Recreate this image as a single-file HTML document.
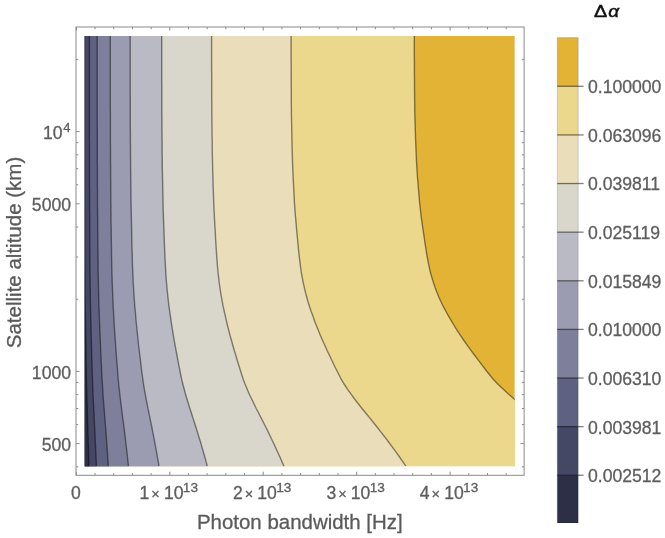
<!DOCTYPE html>
<html><head><meta charset="utf-8"><title>plot</title>
<style>html,body{margin:0;padding:0;background:#fff}svg{display:block}text{font-family:"Liberation Sans",sans-serif}.g text,text.s{stroke:#5e5e5e;stroke-width:0.3px}</style></head><body>
<svg width="665" height="538" viewBox="0 0 665 538">
<rect width="665" height="538" fill="#fff"/>
<defs><clipPath id="c"><rect x="84.8" y="35.9" width="429.99999999999994" height="430.3"/></clipPath></defs>
<g clip-path="url(#c)">
<rect x="84.8" y="35.9" width="429.99999999999994" height="430.3" fill="#e3b336"/>
<polygon fill="#ecd88c" points="82.8,33.9 414.3,33.9 414.3,35.9 414.3,40.7 414.3,45.6 414.3,50.4 414.3,55.2 414.4,60.1 414.4,64.9 414.4,69.7 414.4,74.6 414.5,79.4 414.5,84.2 414.5,89.1 414.6,93.9 414.6,98.8 414.7,103.6 414.7,108.4 414.8,113.3 414.9,118.1 415.1,122.9 415.2,127.8 415.4,132.6 415.5,137.4 415.7,142.3 415.9,147.1 416.1,151.9 416.3,156.8 416.5,161.6 416.8,166.4 417.1,171.3 417.4,176.1 417.8,180.9 418.2,185.8 418.6,190.6 419.0,195.4 419.4,200.3 419.9,205.1 420.4,210.0 421.0,214.8 421.6,219.6 422.3,224.5 423.0,229.3 423.7,234.1 424.4,239.0 425.1,243.8 425.9,248.6 426.6,253.5 427.5,258.3 428.4,263.1 429.4,268.0 430.5,272.8 431.9,277.6 433.4,282.5 435.0,287.3 436.8,292.1 438.8,297.0 441.0,301.8 443.4,306.7 446.0,311.5 448.7,316.3 451.5,321.2 454.4,326.0 457.4,330.8 460.6,335.7 463.9,340.5 467.3,345.3 470.8,350.2 474.4,355.0 478.1,359.8 481.7,364.7 485.4,369.5 489.2,374.3 493.2,379.2 497.7,384.0 502.8,388.8 508.1,393.7 513.6,398.5 519.4,403.3 525.6,408.2 531.7,413.0 538.0,417.9 544.1,422.7 550.1,427.5 556.1,432.4 562.0,437.2 567.8,442.0 573.4,446.9 579.0,451.7 584.4,456.5 589.7,461.4 594.9,466.2 594.9,468.2 82.8,468.2"/>
<polygon fill="#e9deb9" points="82.8,33.9 291.1,33.9 291.1,35.9 291.1,40.7 291.1,45.6 291.1,50.4 291.1,55.2 291.1,60.1 291.2,64.9 291.2,69.7 291.2,74.6 291.2,79.4 291.2,84.2 291.3,89.1 291.3,93.9 291.3,98.8 291.3,103.6 291.4,108.4 291.4,113.3 291.5,118.1 291.6,122.9 291.7,127.8 291.8,132.6 291.9,137.4 292.0,142.3 292.1,147.1 292.2,151.9 292.4,156.8 292.5,161.6 292.7,166.4 292.9,171.3 293.1,176.1 293.3,180.9 293.6,185.8 293.8,190.6 294.1,195.4 294.3,200.3 294.6,205.1 295.0,210.0 295.3,214.8 295.8,219.6 296.2,224.5 296.6,229.3 297.1,234.1 297.5,239.0 298.0,243.8 298.4,248.6 298.9,253.5 299.5,258.3 300.1,263.1 300.7,268.0 301.4,272.8 302.3,277.6 303.2,282.5 304.3,287.3 305.4,292.1 306.7,297.0 308.0,301.8 309.6,306.7 311.2,311.5 313.0,316.3 314.7,321.2 316.6,326.0 318.5,330.8 320.5,335.7 322.6,340.5 324.8,345.3 327.0,350.2 329.3,355.0 331.6,359.8 333.9,364.7 336.3,369.5 338.7,374.3 341.2,379.2 344.1,384.0 347.3,388.8 350.7,393.7 354.2,398.5 357.9,403.3 361.8,408.2 365.7,413.0 369.7,417.9 373.6,422.7 377.4,427.5 381.2,432.4 385.0,437.2 388.6,442.0 392.2,446.9 395.7,451.7 399.2,456.5 402.6,461.4 405.9,466.2 405.9,468.2 82.8,468.2"/>
<polygon fill="#d9d7cb" points="82.8,33.9 211.6,33.9 211.6,35.9 211.6,40.7 211.6,45.6 211.6,50.4 211.6,55.2 211.6,60.1 211.6,64.9 211.6,69.7 211.7,74.6 211.7,79.4 211.7,84.2 211.7,89.1 211.7,93.9 211.7,98.8 211.8,103.6 211.8,108.4 211.8,113.3 211.9,118.1 211.9,122.9 212.0,127.8 212.0,132.6 212.1,137.4 212.2,142.3 212.2,147.1 212.3,151.9 212.4,156.8 212.5,161.6 212.6,166.4 212.7,171.3 212.9,176.1 213.0,180.9 213.1,185.8 213.3,190.6 213.5,195.4 213.6,200.3 213.8,205.1 214.0,210.0 214.3,214.8 214.5,219.6 214.8,224.5 215.1,229.3 215.4,234.1 215.6,239.0 215.9,243.8 216.2,248.6 216.5,253.5 216.9,258.3 217.2,263.1 217.6,268.0 218.1,272.8 218.6,277.6 219.2,282.5 219.9,287.3 220.6,292.1 221.4,297.0 222.3,301.8 223.2,306.7 224.3,311.5 225.4,316.3 226.5,321.2 227.6,326.0 228.9,330.8 230.1,335.7 231.5,340.5 232.8,345.3 234.2,350.2 235.7,355.0 237.1,359.8 238.6,364.7 240.1,369.5 241.6,374.3 243.2,379.2 245.0,384.0 247.0,388.8 249.1,393.7 251.4,398.5 253.7,403.3 256.1,408.2 258.6,413.0 261.1,417.9 263.6,422.7 266.0,427.5 268.4,432.4 270.7,437.2 273.0,442.0 275.3,446.9 277.5,451.7 279.7,456.5 281.8,461.4 283.9,466.2 283.9,468.2 82.8,468.2"/>
<polygon fill="#babac4" points="82.8,33.9 161.7,33.9 161.7,35.9 161.7,40.7 161.7,45.6 161.7,50.4 161.7,55.2 161.7,60.1 161.7,64.9 161.7,69.7 161.7,74.6 161.7,79.4 161.8,84.2 161.8,89.1 161.8,93.9 161.8,98.8 161.8,103.6 161.8,108.4 161.8,113.3 161.9,118.1 161.9,122.9 161.9,127.8 162.0,132.6 162.0,137.4 162.1,142.3 162.1,147.1 162.1,151.9 162.2,156.8 162.3,161.6 162.3,166.4 162.4,171.3 162.5,176.1 162.6,180.9 162.7,185.8 162.8,190.6 162.9,195.4 163.0,200.3 163.1,205.1 163.2,210.0 163.4,214.8 163.5,219.6 163.7,224.5 163.9,229.3 164.1,234.1 164.2,239.0 164.4,243.8 164.6,248.6 164.8,253.5 165.0,258.3 165.3,263.1 165.5,268.0 165.8,272.8 166.1,277.6 166.5,282.5 166.9,287.3 167.4,292.1 167.9,297.0 168.4,301.8 169.0,306.7 169.7,311.5 170.4,316.3 171.1,321.2 171.8,326.0 172.6,330.8 173.4,335.7 174.2,340.5 175.1,345.3 176.0,350.2 176.9,355.0 177.8,359.8 178.7,364.7 179.7,369.5 180.6,374.3 181.6,379.2 182.8,384.0 184.1,388.8 185.4,393.7 186.8,398.5 188.3,403.3 189.8,408.2 191.4,413.0 192.9,417.9 194.5,422.7 196.0,427.5 197.5,432.4 199.0,437.2 200.5,442.0 201.9,446.9 203.3,451.7 204.7,456.5 206.0,461.4 207.3,466.2 207.3,468.2 82.8,468.2"/>
<polygon fill="#9b9cb1" points="82.8,33.9 130.2,33.9 130.2,35.9 130.2,40.7 130.2,45.6 130.2,50.4 130.2,55.2 130.2,60.1 130.2,64.9 130.2,69.7 130.2,74.6 130.2,79.4 130.2,84.2 130.2,89.1 130.2,93.9 130.3,98.8 130.3,103.6 130.3,108.4 130.3,113.3 130.3,118.1 130.3,122.9 130.3,127.8 130.4,132.6 130.4,137.4 130.4,142.3 130.5,147.1 130.5,151.9 130.5,156.8 130.6,161.6 130.6,166.4 130.6,171.3 130.7,176.1 130.8,180.9 130.8,185.8 130.9,190.6 130.9,195.4 131.0,200.3 131.1,205.1 131.2,210.0 131.3,214.8 131.4,219.6 131.5,224.5 131.6,229.3 131.7,234.1 131.8,239.0 131.9,243.8 132.0,248.6 132.2,253.5 132.3,258.3 132.4,263.1 132.6,268.0 132.8,272.8 133.0,277.6 133.2,282.5 133.5,287.3 133.8,292.1 134.1,297.0 134.5,301.8 134.8,306.7 135.3,311.5 135.7,316.3 136.1,321.2 136.6,326.0 137.1,330.8 137.6,335.7 138.1,340.5 138.6,345.3 139.2,350.2 139.8,355.0 140.4,359.8 140.9,364.7 141.5,369.5 142.1,374.3 142.8,379.2 143.5,384.0 144.3,388.8 145.2,393.7 146.0,398.5 147.0,403.3 147.9,408.2 148.9,413.0 149.9,417.9 150.9,422.7 151.9,427.5 152.8,432.4 153.8,437.2 154.7,442.0 155.6,446.9 156.5,451.7 157.3,456.5 158.2,461.4 159.0,466.2 159.0,468.2 82.8,468.2"/>
<polygon fill="#7e809b" points="82.8,33.9 110.3,33.9 110.3,35.9 110.3,40.7 110.3,45.6 110.3,50.4 110.3,55.2 110.3,60.1 110.3,64.9 110.3,69.7 110.3,74.6 110.3,79.4 110.3,84.2 110.3,89.1 110.3,93.9 110.3,98.8 110.3,103.6 110.3,108.4 110.4,113.3 110.4,118.1 110.4,122.9 110.4,127.8 110.4,132.6 110.4,137.4 110.4,142.3 110.5,147.1 110.5,151.9 110.5,156.8 110.5,161.6 110.6,166.4 110.6,171.3 110.6,176.1 110.7,180.9 110.7,185.8 110.7,190.6 110.8,195.4 110.8,200.3 110.9,205.1 110.9,210.0 111.0,214.8 111.0,219.6 111.1,224.5 111.2,229.3 111.2,234.1 111.3,239.0 111.4,243.8 111.5,248.6 111.5,253.5 111.6,258.3 111.7,263.1 111.8,268.0 111.9,272.8 112.1,277.6 112.2,282.5 112.4,287.3 112.6,292.1 112.8,297.0 113.0,301.8 113.2,306.7 113.5,311.5 113.8,316.3 114.0,321.2 114.3,326.0 114.6,330.8 115.0,335.7 115.3,340.5 115.6,345.3 116.0,350.2 116.3,355.0 116.7,359.8 117.1,364.7 117.5,369.5 117.8,374.3 118.2,379.2 118.7,384.0 119.2,388.8 119.7,393.7 120.3,398.5 120.9,403.3 121.5,408.2 122.1,413.0 122.7,417.9 123.4,422.7 124.0,427.5 124.6,432.4 125.2,437.2 125.7,442.0 126.3,446.9 126.9,451.7 127.4,456.5 127.9,461.4 128.5,466.2 128.5,468.2 82.8,468.2"/>
<polygon fill="#5f6182" points="82.8,33.9 97.2,33.9 97.2,35.9 97.2,40.7 97.2,45.6 97.2,50.4 97.2,55.2 97.2,60.1 97.2,64.9 97.2,69.7 97.2,74.6 97.2,79.4 97.2,84.2 97.2,89.1 97.2,93.9 97.2,98.8 97.2,103.6 97.2,108.4 97.2,113.3 97.2,118.1 97.2,122.9 97.3,127.8 97.3,132.6 97.3,137.4 97.3,142.3 97.3,147.1 97.3,151.9 97.3,156.8 97.3,161.6 97.4,166.4 97.4,171.3 97.4,176.1 97.4,180.9 97.4,185.8 97.5,190.6 97.5,195.4 97.5,200.3 97.5,205.1 97.6,210.0 97.6,214.8 97.7,219.6 97.7,224.5 97.7,229.3 97.8,234.1 97.8,239.0 97.9,243.8 97.9,248.6 98.0,253.5 98.0,258.3 98.1,263.1 98.1,268.0 98.2,272.8 98.3,277.6 98.4,282.5 98.5,287.3 98.6,292.1 98.7,297.0 98.8,301.8 99.0,306.7 99.2,311.5 99.3,316.3 99.5,321.2 99.7,326.0 99.9,330.8 100.1,335.7 100.3,340.5 100.5,345.3 100.7,350.2 100.9,355.0 101.1,359.8 101.4,364.7 101.6,369.5 101.8,374.3 102.1,379.2 102.4,384.0 102.7,388.8 103.0,393.7 103.3,398.5 103.7,403.3 104.1,408.2 104.5,413.0 104.8,417.9 105.2,422.7 105.6,427.5 106.0,432.4 106.3,437.2 106.7,442.0 107.0,446.9 107.4,451.7 107.7,456.5 108.0,461.4 108.4,466.2 108.4,468.2 82.8,468.2"/>
<polygon fill="#454864" points="82.8,33.9 89.4,33.9 89.4,35.9 89.4,40.7 89.4,45.6 89.4,50.4 89.4,55.2 89.4,60.1 89.4,64.9 89.4,69.7 89.4,74.6 89.4,79.4 89.4,84.2 89.4,89.1 89.4,93.9 89.4,98.8 89.4,103.6 89.4,108.4 89.4,113.3 89.4,118.1 89.4,122.9 89.4,127.8 89.4,132.6 89.4,137.4 89.5,142.3 89.5,147.1 89.5,151.9 89.5,156.8 89.5,161.6 89.5,166.4 89.5,171.3 89.5,176.1 89.5,180.9 89.5,185.8 89.6,190.6 89.6,195.4 89.6,200.3 89.6,205.1 89.6,210.0 89.7,214.8 89.7,219.6 89.7,224.5 89.7,229.3 89.8,234.1 89.8,239.0 89.8,243.8 89.8,248.6 89.9,253.5 89.9,258.3 89.9,263.1 90.0,268.0 90.0,272.8 90.1,277.6 90.1,282.5 90.2,287.3 90.3,292.1 90.3,297.0 90.4,301.8 90.5,306.7 90.6,311.5 90.7,316.3 90.8,321.2 91.0,326.0 91.1,330.8 91.2,335.7 91.3,340.5 91.5,345.3 91.6,350.2 91.7,355.0 91.9,359.8 92.0,364.7 92.2,369.5 92.3,374.3 92.5,379.2 92.6,384.0 92.8,388.8 93.0,393.7 93.2,398.5 93.5,403.3 93.7,408.2 94.0,413.0 94.2,417.9 94.4,422.7 94.7,427.5 94.9,432.4 95.1,437.2 95.3,442.0 95.6,446.9 95.8,451.7 96.0,456.5 96.2,461.4 96.4,466.2 96.4,468.2 82.8,468.2"/>
<polygon fill="#2d2f46" points="82.8,33.9 84.5,33.9 84.5,35.9 84.5,40.7 84.5,45.6 84.5,50.4 84.5,55.2 84.5,60.1 84.5,64.9 84.5,69.7 84.5,74.6 84.5,79.4 84.5,84.2 84.5,89.1 84.5,93.9 84.5,98.8 84.5,103.6 84.5,108.4 84.5,113.3 84.5,118.1 84.5,122.9 84.5,127.8 84.5,132.6 84.5,137.4 84.5,142.3 84.5,147.1 84.5,151.9 84.5,156.8 84.6,161.6 84.6,166.4 84.6,171.3 84.6,176.1 84.6,180.9 84.6,185.8 84.6,190.6 84.6,195.4 84.6,200.3 84.6,205.1 84.6,210.0 84.7,214.8 84.7,219.6 84.7,224.5 84.7,229.3 84.7,234.1 84.7,239.0 84.8,243.8 84.8,248.6 84.8,253.5 84.8,258.3 84.8,263.1 84.9,268.0 84.9,272.8 84.9,277.6 85.0,282.5 85.0,287.3 85.0,292.1 85.1,297.0 85.1,301.8 85.2,306.7 85.3,311.5 85.3,316.3 85.4,321.2 85.5,326.0 85.5,330.8 85.6,335.7 85.7,340.5 85.8,345.3 85.9,350.2 86.0,355.0 86.0,359.8 86.1,364.7 86.2,369.5 86.3,374.3 86.4,379.2 86.5,384.0 86.6,388.8 86.8,393.7 86.9,398.5 87.1,403.3 87.2,408.2 87.3,413.0 87.5,417.9 87.6,422.7 87.8,427.5 87.9,432.4 88.1,437.2 88.2,442.0 88.4,446.9 88.5,451.7 88.6,456.5 88.8,461.4 88.9,466.2 88.9,468.2 82.8,468.2"/>
<polyline fill="none" stroke="#000" stroke-opacity="0.45" stroke-width="1.4" points="84.5,35.9 84.5,40.7 84.5,45.6 84.5,50.4 84.5,55.2 84.5,60.1 84.5,64.9 84.5,69.7 84.5,74.6 84.5,79.4 84.5,84.2 84.5,89.1 84.5,93.9 84.5,98.8 84.5,103.6 84.5,108.4 84.5,113.3 84.5,118.1 84.5,122.9 84.5,127.8 84.5,132.6 84.5,137.4 84.5,142.3 84.5,147.1 84.5,151.9 84.5,156.8 84.6,161.6 84.6,166.4 84.6,171.3 84.6,176.1 84.6,180.9 84.6,185.8 84.6,190.6 84.6,195.4 84.6,200.3 84.6,205.1 84.6,210.0 84.7,214.8 84.7,219.6 84.7,224.5 84.7,229.3 84.7,234.1 84.7,239.0 84.8,243.8 84.8,248.6 84.8,253.5 84.8,258.3 84.8,263.1 84.9,268.0 84.9,272.8 84.9,277.6 85.0,282.5 85.0,287.3 85.0,292.1 85.1,297.0 85.1,301.8 85.2,306.7 85.3,311.5 85.3,316.3 85.4,321.2 85.5,326.0 85.5,330.8 85.6,335.7 85.7,340.5 85.8,345.3 85.9,350.2 86.0,355.0 86.0,359.8 86.1,364.7 86.2,369.5 86.3,374.3 86.4,379.2 86.5,384.0 86.6,388.8 86.8,393.7 86.9,398.5 87.1,403.3 87.2,408.2 87.3,413.0 87.5,417.9 87.6,422.7 87.8,427.5 87.9,432.4 88.1,437.2 88.2,442.0 88.4,446.9 88.5,451.7 88.6,456.5 88.8,461.4 88.9,466.2"/>
<polyline fill="none" stroke="#000" stroke-opacity="0.45" stroke-width="1.4" points="89.4,35.9 89.4,40.7 89.4,45.6 89.4,50.4 89.4,55.2 89.4,60.1 89.4,64.9 89.4,69.7 89.4,74.6 89.4,79.4 89.4,84.2 89.4,89.1 89.4,93.9 89.4,98.8 89.4,103.6 89.4,108.4 89.4,113.3 89.4,118.1 89.4,122.9 89.4,127.8 89.4,132.6 89.4,137.4 89.5,142.3 89.5,147.1 89.5,151.9 89.5,156.8 89.5,161.6 89.5,166.4 89.5,171.3 89.5,176.1 89.5,180.9 89.5,185.8 89.6,190.6 89.6,195.4 89.6,200.3 89.6,205.1 89.6,210.0 89.7,214.8 89.7,219.6 89.7,224.5 89.7,229.3 89.8,234.1 89.8,239.0 89.8,243.8 89.8,248.6 89.9,253.5 89.9,258.3 89.9,263.1 90.0,268.0 90.0,272.8 90.1,277.6 90.1,282.5 90.2,287.3 90.3,292.1 90.3,297.0 90.4,301.8 90.5,306.7 90.6,311.5 90.7,316.3 90.8,321.2 91.0,326.0 91.1,330.8 91.2,335.7 91.3,340.5 91.5,345.3 91.6,350.2 91.7,355.0 91.9,359.8 92.0,364.7 92.2,369.5 92.3,374.3 92.5,379.2 92.6,384.0 92.8,388.8 93.0,393.7 93.2,398.5 93.5,403.3 93.7,408.2 94.0,413.0 94.2,417.9 94.4,422.7 94.7,427.5 94.9,432.4 95.1,437.2 95.3,442.0 95.6,446.9 95.8,451.7 96.0,456.5 96.2,461.4 96.4,466.2"/>
<polyline fill="none" stroke="#000" stroke-opacity="0.45" stroke-width="1.4" points="97.2,35.9 97.2,40.7 97.2,45.6 97.2,50.4 97.2,55.2 97.2,60.1 97.2,64.9 97.2,69.7 97.2,74.6 97.2,79.4 97.2,84.2 97.2,89.1 97.2,93.9 97.2,98.8 97.2,103.6 97.2,108.4 97.2,113.3 97.2,118.1 97.2,122.9 97.3,127.8 97.3,132.6 97.3,137.4 97.3,142.3 97.3,147.1 97.3,151.9 97.3,156.8 97.3,161.6 97.4,166.4 97.4,171.3 97.4,176.1 97.4,180.9 97.4,185.8 97.5,190.6 97.5,195.4 97.5,200.3 97.5,205.1 97.6,210.0 97.6,214.8 97.7,219.6 97.7,224.5 97.7,229.3 97.8,234.1 97.8,239.0 97.9,243.8 97.9,248.6 98.0,253.5 98.0,258.3 98.1,263.1 98.1,268.0 98.2,272.8 98.3,277.6 98.4,282.5 98.5,287.3 98.6,292.1 98.7,297.0 98.8,301.8 99.0,306.7 99.2,311.5 99.3,316.3 99.5,321.2 99.7,326.0 99.9,330.8 100.1,335.7 100.3,340.5 100.5,345.3 100.7,350.2 100.9,355.0 101.1,359.8 101.4,364.7 101.6,369.5 101.8,374.3 102.1,379.2 102.4,384.0 102.7,388.8 103.0,393.7 103.3,398.5 103.7,403.3 104.1,408.2 104.5,413.0 104.8,417.9 105.2,422.7 105.6,427.5 106.0,432.4 106.3,437.2 106.7,442.0 107.0,446.9 107.4,451.7 107.7,456.5 108.0,461.4 108.4,466.2"/>
<polyline fill="none" stroke="#000" stroke-opacity="0.45" stroke-width="1.4" points="110.3,35.9 110.3,40.7 110.3,45.6 110.3,50.4 110.3,55.2 110.3,60.1 110.3,64.9 110.3,69.7 110.3,74.6 110.3,79.4 110.3,84.2 110.3,89.1 110.3,93.9 110.3,98.8 110.3,103.6 110.3,108.4 110.4,113.3 110.4,118.1 110.4,122.9 110.4,127.8 110.4,132.6 110.4,137.4 110.4,142.3 110.5,147.1 110.5,151.9 110.5,156.8 110.5,161.6 110.6,166.4 110.6,171.3 110.6,176.1 110.7,180.9 110.7,185.8 110.7,190.6 110.8,195.4 110.8,200.3 110.9,205.1 110.9,210.0 111.0,214.8 111.0,219.6 111.1,224.5 111.2,229.3 111.2,234.1 111.3,239.0 111.4,243.8 111.5,248.6 111.5,253.5 111.6,258.3 111.7,263.1 111.8,268.0 111.9,272.8 112.1,277.6 112.2,282.5 112.4,287.3 112.6,292.1 112.8,297.0 113.0,301.8 113.2,306.7 113.5,311.5 113.8,316.3 114.0,321.2 114.3,326.0 114.6,330.8 115.0,335.7 115.3,340.5 115.6,345.3 116.0,350.2 116.3,355.0 116.7,359.8 117.1,364.7 117.5,369.5 117.8,374.3 118.2,379.2 118.7,384.0 119.2,388.8 119.7,393.7 120.3,398.5 120.9,403.3 121.5,408.2 122.1,413.0 122.7,417.9 123.4,422.7 124.0,427.5 124.6,432.4 125.2,437.2 125.7,442.0 126.3,446.9 126.9,451.7 127.4,456.5 127.9,461.4 128.5,466.2"/>
<polyline fill="none" stroke="#000" stroke-opacity="0.45" stroke-width="1.4" points="130.2,35.9 130.2,40.7 130.2,45.6 130.2,50.4 130.2,55.2 130.2,60.1 130.2,64.9 130.2,69.7 130.2,74.6 130.2,79.4 130.2,84.2 130.2,89.1 130.2,93.9 130.3,98.8 130.3,103.6 130.3,108.4 130.3,113.3 130.3,118.1 130.3,122.9 130.3,127.8 130.4,132.6 130.4,137.4 130.4,142.3 130.5,147.1 130.5,151.9 130.5,156.8 130.6,161.6 130.6,166.4 130.6,171.3 130.7,176.1 130.8,180.9 130.8,185.8 130.9,190.6 130.9,195.4 131.0,200.3 131.1,205.1 131.2,210.0 131.3,214.8 131.4,219.6 131.5,224.5 131.6,229.3 131.7,234.1 131.8,239.0 131.9,243.8 132.0,248.6 132.2,253.5 132.3,258.3 132.4,263.1 132.6,268.0 132.8,272.8 133.0,277.6 133.2,282.5 133.5,287.3 133.8,292.1 134.1,297.0 134.5,301.8 134.8,306.7 135.3,311.5 135.7,316.3 136.1,321.2 136.6,326.0 137.1,330.8 137.6,335.7 138.1,340.5 138.6,345.3 139.2,350.2 139.8,355.0 140.4,359.8 140.9,364.7 141.5,369.5 142.1,374.3 142.8,379.2 143.5,384.0 144.3,388.8 145.2,393.7 146.0,398.5 147.0,403.3 147.9,408.2 148.9,413.0 149.9,417.9 150.9,422.7 151.9,427.5 152.8,432.4 153.8,437.2 154.7,442.0 155.6,446.9 156.5,451.7 157.3,456.5 158.2,461.4 159.0,466.2"/>
<polyline fill="none" stroke="#000" stroke-opacity="0.45" stroke-width="1.4" points="161.7,35.9 161.7,40.7 161.7,45.6 161.7,50.4 161.7,55.2 161.7,60.1 161.7,64.9 161.7,69.7 161.7,74.6 161.7,79.4 161.8,84.2 161.8,89.1 161.8,93.9 161.8,98.8 161.8,103.6 161.8,108.4 161.8,113.3 161.9,118.1 161.9,122.9 161.9,127.8 162.0,132.6 162.0,137.4 162.1,142.3 162.1,147.1 162.1,151.9 162.2,156.8 162.3,161.6 162.3,166.4 162.4,171.3 162.5,176.1 162.6,180.9 162.7,185.8 162.8,190.6 162.9,195.4 163.0,200.3 163.1,205.1 163.2,210.0 163.4,214.8 163.5,219.6 163.7,224.5 163.9,229.3 164.1,234.1 164.2,239.0 164.4,243.8 164.6,248.6 164.8,253.5 165.0,258.3 165.3,263.1 165.5,268.0 165.8,272.8 166.1,277.6 166.5,282.5 166.9,287.3 167.4,292.1 167.9,297.0 168.4,301.8 169.0,306.7 169.7,311.5 170.4,316.3 171.1,321.2 171.8,326.0 172.6,330.8 173.4,335.7 174.2,340.5 175.1,345.3 176.0,350.2 176.9,355.0 177.8,359.8 178.7,364.7 179.7,369.5 180.6,374.3 181.6,379.2 182.8,384.0 184.1,388.8 185.4,393.7 186.8,398.5 188.3,403.3 189.8,408.2 191.4,413.0 192.9,417.9 194.5,422.7 196.0,427.5 197.5,432.4 199.0,437.2 200.5,442.0 201.9,446.9 203.3,451.7 204.7,456.5 206.0,461.4 207.3,466.2"/>
<polyline fill="none" stroke="#000" stroke-opacity="0.45" stroke-width="1.4" points="211.6,35.9 211.6,40.7 211.6,45.6 211.6,50.4 211.6,55.2 211.6,60.1 211.6,64.9 211.6,69.7 211.7,74.6 211.7,79.4 211.7,84.2 211.7,89.1 211.7,93.9 211.7,98.8 211.8,103.6 211.8,108.4 211.8,113.3 211.9,118.1 211.9,122.9 212.0,127.8 212.0,132.6 212.1,137.4 212.2,142.3 212.2,147.1 212.3,151.9 212.4,156.8 212.5,161.6 212.6,166.4 212.7,171.3 212.9,176.1 213.0,180.9 213.1,185.8 213.3,190.6 213.5,195.4 213.6,200.3 213.8,205.1 214.0,210.0 214.3,214.8 214.5,219.6 214.8,224.5 215.1,229.3 215.4,234.1 215.6,239.0 215.9,243.8 216.2,248.6 216.5,253.5 216.9,258.3 217.2,263.1 217.6,268.0 218.1,272.8 218.6,277.6 219.2,282.5 219.9,287.3 220.6,292.1 221.4,297.0 222.3,301.8 223.2,306.7 224.3,311.5 225.4,316.3 226.5,321.2 227.6,326.0 228.9,330.8 230.1,335.7 231.5,340.5 232.8,345.3 234.2,350.2 235.7,355.0 237.1,359.8 238.6,364.7 240.1,369.5 241.6,374.3 243.2,379.2 245.0,384.0 247.0,388.8 249.1,393.7 251.4,398.5 253.7,403.3 256.1,408.2 258.6,413.0 261.1,417.9 263.6,422.7 266.0,427.5 268.4,432.4 270.7,437.2 273.0,442.0 275.3,446.9 277.5,451.7 279.7,456.5 281.8,461.4 283.9,466.2"/>
<polyline fill="none" stroke="#000" stroke-opacity="0.45" stroke-width="1.4" points="291.1,35.9 291.1,40.7 291.1,45.6 291.1,50.4 291.1,55.2 291.1,60.1 291.2,64.9 291.2,69.7 291.2,74.6 291.2,79.4 291.2,84.2 291.3,89.1 291.3,93.9 291.3,98.8 291.3,103.6 291.4,108.4 291.4,113.3 291.5,118.1 291.6,122.9 291.7,127.8 291.8,132.6 291.9,137.4 292.0,142.3 292.1,147.1 292.2,151.9 292.4,156.8 292.5,161.6 292.7,166.4 292.9,171.3 293.1,176.1 293.3,180.9 293.6,185.8 293.8,190.6 294.1,195.4 294.3,200.3 294.6,205.1 295.0,210.0 295.3,214.8 295.8,219.6 296.2,224.5 296.6,229.3 297.1,234.1 297.5,239.0 298.0,243.8 298.4,248.6 298.9,253.5 299.5,258.3 300.1,263.1 300.7,268.0 301.4,272.8 302.3,277.6 303.2,282.5 304.3,287.3 305.4,292.1 306.7,297.0 308.0,301.8 309.6,306.7 311.2,311.5 313.0,316.3 314.7,321.2 316.6,326.0 318.5,330.8 320.5,335.7 322.6,340.5 324.8,345.3 327.0,350.2 329.3,355.0 331.6,359.8 333.9,364.7 336.3,369.5 338.7,374.3 341.2,379.2 344.1,384.0 347.3,388.8 350.7,393.7 354.2,398.5 357.9,403.3 361.8,408.2 365.7,413.0 369.7,417.9 373.6,422.7 377.4,427.5 381.2,432.4 385.0,437.2 388.6,442.0 392.2,446.9 395.7,451.7 399.2,456.5 402.6,461.4 405.9,466.2"/>
<polyline fill="none" stroke="#000" stroke-opacity="0.45" stroke-width="1.4" points="414.3,35.9 414.3,40.7 414.3,45.6 414.3,50.4 414.3,55.2 414.4,60.1 414.4,64.9 414.4,69.7 414.4,74.6 414.5,79.4 414.5,84.2 414.5,89.1 414.6,93.9 414.6,98.8 414.7,103.6 414.7,108.4 414.8,113.3 414.9,118.1 415.1,122.9 415.2,127.8 415.4,132.6 415.5,137.4 415.7,142.3 415.9,147.1 416.1,151.9 416.3,156.8 416.5,161.6 416.8,166.4 417.1,171.3 417.4,176.1 417.8,180.9 418.2,185.8 418.6,190.6 419.0,195.4 419.4,200.3 419.9,205.1 420.4,210.0 421.0,214.8 421.6,219.6 422.3,224.5 423.0,229.3 423.7,234.1 424.4,239.0 425.1,243.8 425.9,248.6 426.6,253.5 427.5,258.3 428.4,263.1 429.4,268.0 430.5,272.8 431.9,277.6 433.4,282.5 435.0,287.3 436.8,292.1 438.8,297.0 441.0,301.8 443.4,306.7 446.0,311.5 448.7,316.3 451.5,321.2 454.4,326.0 457.4,330.8 460.6,335.7 463.9,340.5 467.3,345.3 470.8,350.2 474.4,355.0 478.1,359.8 481.7,364.7 485.4,369.5 489.2,374.3 493.2,379.2 497.7,384.0 502.8,388.8 508.1,393.7 513.6,398.5 519.4,403.3 525.6,408.2 531.7,413.0 538.0,417.9 544.1,422.7 550.1,427.5 556.1,432.4 562.0,437.2 567.8,442.0 573.4,446.9 579.0,451.7 584.4,456.5 589.7,461.4 594.9,466.2"/>
</g>
<rect x="76.0" y="27.0" width="448.1" height="448.3" fill="none" stroke="#8a8a8a" stroke-width="1"/>
<path d="M76.3,475.3v-3.6M76.3,27.0v3.6M95.0,475.3v-2.2M95.0,27.0v2.2M113.7,475.3v-2.2M113.7,27.0v2.2M132.4,475.3v-2.2M132.4,27.0v2.2M151.1,475.3v-2.2M151.1,27.0v2.2M169.8,475.3v-3.6M169.8,27.0v3.6M188.4,475.3v-2.2M188.4,27.0v2.2M207.1,475.3v-2.2M207.1,27.0v2.2M225.8,475.3v-2.2M225.8,27.0v2.2M244.5,475.3v-2.2M244.5,27.0v2.2M263.2,475.3v-3.6M263.2,27.0v3.6M281.9,475.3v-2.2M281.9,27.0v2.2M300.6,475.3v-2.2M300.6,27.0v2.2M319.3,475.3v-2.2M319.3,27.0v2.2M338.0,475.3v-2.2M338.0,27.0v2.2M356.7,475.3v-3.6M356.7,27.0v3.6M375.3,475.3v-2.2M375.3,27.0v2.2M394.0,475.3v-2.2M394.0,27.0v2.2M412.7,475.3v-2.2M412.7,27.0v2.2M431.4,475.3v-2.2M431.4,27.0v2.2M450.1,475.3v-3.6M450.1,27.0v3.6M468.8,475.3v-2.2M468.8,27.0v2.2M487.5,475.3v-2.2M487.5,27.0v2.2M506.2,475.3v-2.2M506.2,27.0v2.2M76.0,443.6h3.6M524.1,443.6h-3.6M76.0,371.4h3.6M524.1,371.4h-3.6M76.0,203.8h3.6M524.1,203.8h-3.6M76.0,131.6h3.6M524.1,131.6h-3.6M76.0,466.8h2.2M524.1,466.8h-2.2M76.0,424.6h2.2M524.1,424.6h-2.2M76.0,408.5h2.2M524.1,408.5h-2.2M76.0,394.6h2.2M524.1,394.6h-2.2M76.0,382.4h2.2M524.1,382.4h-2.2M76.0,299.2h2.2M524.1,299.2h-2.2M76.0,257.0h2.2M524.1,257.0h-2.2M76.0,227.0h2.2M524.1,227.0h-2.2M76.0,184.8h2.2M524.1,184.8h-2.2M76.0,168.7h2.2M524.1,168.7h-2.2M76.0,154.8h2.2M524.1,154.8h-2.2M76.0,142.6h2.2M524.1,142.6h-2.2M76.0,59.4h2.2M524.1,59.4h-2.2" stroke="#8a8a8a" stroke-width="1" fill="none"/>
<g class="g">
<text x="71" y="451.2" font-size="17.6" fill="#5e5e5e" text-anchor="end">500</text>
<text x="71" y="379.0" font-size="17.6" fill="#5e5e5e" text-anchor="end">1000</text>
<text x="71" y="211.4" font-size="17.6" fill="#5e5e5e" text-anchor="end">5000</text>
<text x="62.6" y="139.2" font-size="17.6" fill="#5e5e5e" text-anchor="end">10</text>
<text x="63.2" y="132.0" font-size="13" fill="#5e5e5e">4</text>
<text x="76" y="498.9" font-size="17.6" fill="#5e5e5e" text-anchor="middle">0</text>
<text y="498.9" font-size="17.6" fill="#5e5e5e"><tspan x="139.5">1</tspan><tspan x="163.9">10</tspan></text>
<text x="155.5" y="499.2" font-size="14.5" fill="#5e5e5e" text-anchor="middle">×</text>
<text x="182.8" y="491.8" font-size="13" fill="#5e5e5e" textLength="15.2" lengthAdjust="spacingAndGlyphs">13</text>
<text y="498.9" font-size="17.6" fill="#5e5e5e"><tspan x="232.9">2</tspan><tspan x="257.3">10</tspan></text>
<text x="248.9" y="499.2" font-size="14.5" fill="#5e5e5e" text-anchor="middle">×</text>
<text x="276.2" y="491.8" font-size="13" fill="#5e5e5e" textLength="15.2" lengthAdjust="spacingAndGlyphs">13</text>
<text y="498.9" font-size="17.6" fill="#5e5e5e"><tspan x="326.4">3</tspan><tspan x="350.8">10</tspan></text>
<text x="342.4" y="499.2" font-size="14.5" fill="#5e5e5e" text-anchor="middle">×</text>
<text x="369.7" y="491.8" font-size="13" fill="#5e5e5e" textLength="15.2" lengthAdjust="spacingAndGlyphs">13</text>
<text y="498.9" font-size="17.6" fill="#5e5e5e"><tspan x="419.8">4</tspan><tspan x="444.2">10</tspan></text>
<text x="435.8" y="499.2" font-size="14.5" fill="#5e5e5e" text-anchor="middle">×</text>
<text x="463.1" y="491.8" font-size="13" fill="#5e5e5e" textLength="15.2" lengthAdjust="spacingAndGlyphs">13</text>
<text x="299.8" y="528.7" font-size="20.5" fill="#595959" text-anchor="middle" textLength="205.7" lengthAdjust="spacingAndGlyphs">Photon bandwidth [Hz]</text>
<text transform="translate(21,252.5) rotate(-90)" font-size="20.5" fill="#595959" text-anchor="middle">Satellite altitude (km)</text>
</g>
<rect x="557.3" y="37.60" width="20.9" height="49.20" fill="#e3b336"/>
<rect x="557.3" y="86.30" width="20.9" height="49.12" fill="#ecd88c"/>
<rect x="557.3" y="134.92" width="20.9" height="49.12" fill="#e9deb9"/>
<rect x="557.3" y="183.54" width="20.9" height="49.12" fill="#d9d7cb"/>
<rect x="557.3" y="232.16" width="20.9" height="49.12" fill="#babac4"/>
<rect x="557.3" y="280.78" width="20.9" height="49.12" fill="#9b9cb1"/>
<rect x="557.3" y="329.40" width="20.9" height="49.12" fill="#7e809b"/>
<rect x="557.3" y="378.02" width="20.9" height="49.12" fill="#5f6182"/>
<rect x="557.3" y="426.64" width="20.9" height="49.12" fill="#454864"/>
<rect x="557.3" y="475.26" width="20.9" height="47.74" fill="#2d2f46"/>
<line x1="557.3" x2="583.6" y1="86.30" y2="86.30" stroke="#000" stroke-opacity="0.5" stroke-width="1.3"/>
<text class="s" x="588" y="93.2" font-size="17.6" fill="#5e5e5e">0.100000</text>
<line x1="557.3" x2="583.6" y1="134.92" y2="134.92" stroke="#000" stroke-opacity="0.5" stroke-width="1.3"/>
<text class="s" x="588" y="141.8" font-size="17.6" fill="#5e5e5e">0.063096</text>
<line x1="557.3" x2="583.6" y1="183.54" y2="183.54" stroke="#000" stroke-opacity="0.5" stroke-width="1.3"/>
<text class="s" x="588" y="190.4" font-size="17.6" fill="#5e5e5e">0.039811</text>
<line x1="557.3" x2="583.6" y1="232.16" y2="232.16" stroke="#000" stroke-opacity="0.5" stroke-width="1.3"/>
<text class="s" x="588" y="239.1" font-size="17.6" fill="#5e5e5e">0.025119</text>
<line x1="557.3" x2="583.6" y1="280.78" y2="280.78" stroke="#000" stroke-opacity="0.5" stroke-width="1.3"/>
<text class="s" x="588" y="287.7" font-size="17.6" fill="#5e5e5e">0.015849</text>
<line x1="557.3" x2="583.6" y1="329.40" y2="329.40" stroke="#000" stroke-opacity="0.5" stroke-width="1.3"/>
<text class="s" x="588" y="336.3" font-size="17.6" fill="#5e5e5e">0.010000</text>
<line x1="557.3" x2="583.6" y1="378.02" y2="378.02" stroke="#000" stroke-opacity="0.5" stroke-width="1.3"/>
<text class="s" x="588" y="384.9" font-size="17.6" fill="#5e5e5e">0.006310</text>
<line x1="557.3" x2="583.6" y1="426.64" y2="426.64" stroke="#000" stroke-opacity="0.5" stroke-width="1.3"/>
<text class="s" x="588" y="433.5" font-size="17.6" fill="#5e5e5e">0.003981</text>
<line x1="557.3" x2="583.6" y1="475.26" y2="475.26" stroke="#000" stroke-opacity="0.5" stroke-width="1.3"/>
<text class="s" x="588" y="482.2" font-size="17.6" fill="#5e5e5e">0.002512</text>
<rect x="557.3" y="37.6" width="20.9" height="484.9" fill="none" stroke="#000" stroke-opacity="0.15" stroke-width="1"/>
<g fill="#111" stroke="#111" stroke-width="0.45" font-size="17"><text transform="translate(593.9,16.8) scale(1.16,1)">Δ</text><text transform="translate(608.2,16.8) scale(1.12,1)" font-style="italic">α</text></g>
</svg></body></html>
